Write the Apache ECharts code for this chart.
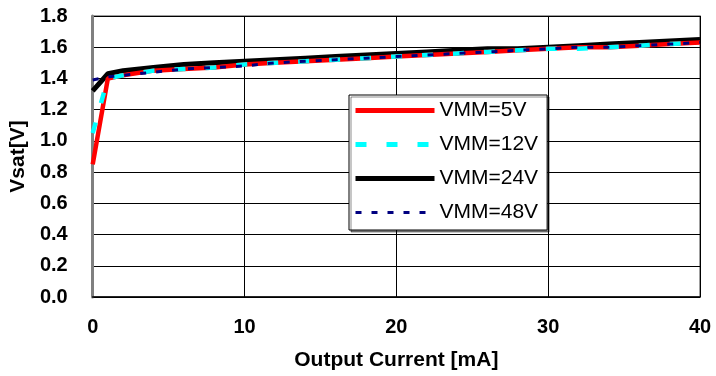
<!DOCTYPE html>
<html><head><meta charset="utf-8">
<script src="https://cdn.jsdelivr.net/npm/echarts@6/dist/echarts.min.js"></script>
<style>html,body{margin:0;padding:0;background:#fff}#c{width:716px;height:376px}</style>
</head><body><div id="c"></div>
<script>
const currentMA = [0,1,2,4,6,8,10,12,14,16,18,20,22,24,26,28,30,32,34,36,38,40];
const vmm5  = [0.85,1.40,1.42,1.45,1.46,1.47,1.49,1.50,1.51,1.52,1.53,1.54,1.55,1.56,1.57,1.58,1.59,1.60,1.60,1.61,1.62,1.63];
const vmm12 = [1.05,1.40,1.42,1.45,1.46,1.47,1.49,1.50,1.51,1.52,1.53,1.54,1.55,1.56,1.57,1.58,1.59,1.59,1.60,1.61,1.62,1.63];
const vmm24 = [1.32,1.43,1.45,1.47,1.49,1.50,1.51,1.52,1.53,1.54,1.55,1.56,1.57,1.58,1.59,1.59,1.60,1.61,1.62,1.63,1.64,1.65];
const vmm48 = [1.39,1.41,1.42,1.44,1.46,1.47,1.48,1.50,1.51,1.52,1.53,1.54,1.55,1.56,1.57,1.58,1.59,1.60,1.60,1.61,1.62,1.63];
const seriesNames = ['VMM=5V','VMM=12V','VMM=24V','VMM=48V'];
const xTicks = [0,10,20,30,40];
const yTicks = ['0.0','0.2','0.4','0.6','0.8','1.0','1.2','1.4','1.6','1.8'];

function pairs(ys){ return currentMA.map((x,i)=>[x,ys[i]]); }
const chart = echarts.init(document.getElementById('c'));
const font = 'Arial, "Liberation Sans", sans-serif';
chart.setOption({
  animation:false,
  backgroundColor:'#fff',
  grid:{left:92,right:16,top:16,bottom:79,show:true,borderColor:'#808080',borderWidth:1.5},
  xAxis:{type:'value',min:0,max:40,interval:10,
    name:'Output Current [mA]',nameLocation:'middle',nameGap:53,
    nameTextStyle:{fontFamily:font,fontWeight:'bold',fontSize:21,color:'#000'},
    axisLine:{show:true,lineStyle:{color:'#000',width:1.5}},
    axisTick:{show:false},
    axisLabel:{fontFamily:font,fontWeight:'bold',fontSize:20,color:'#000',margin:20,
      formatter:v=>xTicks.includes(v)?String(v):''},
    splitLine:{show:true,lineStyle:{color:'#000',width:1}}},
  yAxis:{type:'value',min:0,max:1.8,interval:0.2,
    name:'Vsat[V]',nameLocation:'middle',nameGap:63,nameRotate:90,
    nameTextStyle:{fontFamily:font,fontWeight:'bold',fontSize:21,color:'#000'},
    axisLine:{show:true,lineStyle:{color:'#808080',width:3}},
    axisTick:{show:false},
    axisLabel:{fontFamily:font,fontWeight:'bold',fontSize:20,color:'#000',margin:25,
      formatter:v=>yTicks[Math.round(v/0.2)]},
    splitLine:{show:true,lineStyle:{color:'#000',width:1}}},
  legend:{orient:'vertical',left:349,top:95,
    backgroundColor:'#fff',borderColor:'#000',borderWidth:1,
    shadowColor:'rgba(0,0,0,0.45)',shadowOffsetX:2,shadowOffsetY:2,
    padding:[4,9,6,4],itemGap:11,itemWidth:79,itemHeight:14,
    itemStyle:{opacity:0},
    lineStyle:{width:5},
    textStyle:{fontFamily:font,fontSize:21,color:'#000',lineHeight:23},
    data:[
      {name:seriesNames[0]},
      {name:seriesNames[1]},
      {name:seriesNames[2]},
      {name:seriesNames[3],lineStyle:{width:3}}
    ]},
  series:[
    {name:seriesNames[0],type:'line',data:pairs(vmm5),showSymbol:false,symbol:'none',
      lineStyle:{color:'#ff0000',width:4.5},itemStyle:{color:'#ff0000'},z:2},
    {name:seriesNames[1],type:'line',data:pairs(vmm12),showSymbol:false,symbol:'none',
      lineStyle:{color:'#00ffff',width:4.5,type:[11,20]},itemStyle:{color:'#00ffff'},z:3},
    {name:seriesNames[2],type:'line',data:pairs(vmm24),showSymbol:false,symbol:'none',
      lineStyle:{color:'#000000',width:5},itemStyle:{color:'#000000'},z:1},
    {name:seriesNames[3],type:'line',data:pairs(vmm48),showSymbol:false,symbol:'none',
      lineStyle:{color:'#000080',width:3,type:[6,10]},itemStyle:{color:'#000080'},z:4}
  ]
});
</script></body></html>
